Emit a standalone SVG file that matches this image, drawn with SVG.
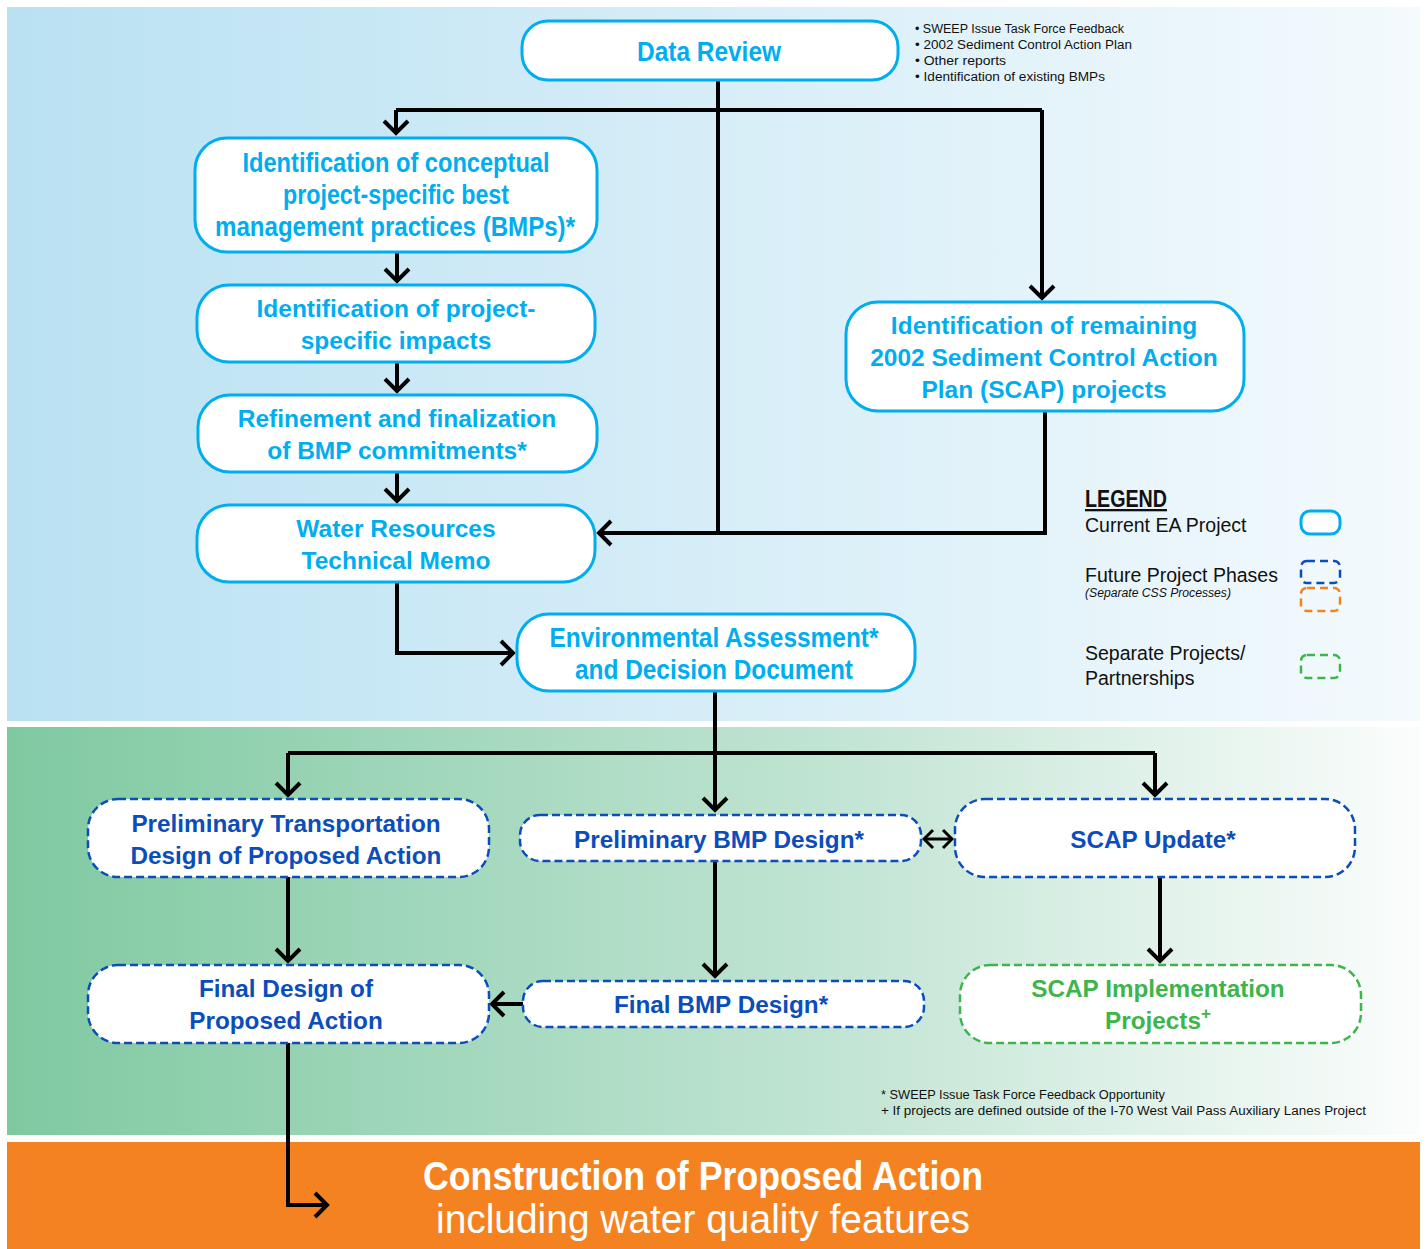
<svg xmlns="http://www.w3.org/2000/svg" width="1427" height="1249" viewBox="0 0 1427 1249">
<defs>
<linearGradient id="gTop" x1="0" y1="0" x2="1" y2="0"><stop offset="0" stop-color="#b9e1f2"/><stop offset="1" stop-color="#f4fafd"/></linearGradient>
<linearGradient id="gGreen" x1="0" y1="0" x2="1" y2="0"><stop offset="0" stop-color="#7fc9a1"/><stop offset="0.6" stop-color="#c3e5d5"/><stop offset="1" stop-color="#fbfdfc"/></linearGradient>
<marker id="arr" viewBox="-16 -16 20 32" refX="0" refY="0" markerWidth="20" markerHeight="32" markerUnits="userSpaceOnUse" orient="auto-start-reverse">
<path d="M-12,-12 L0,0 L-12,12" fill="none" stroke="#000" stroke-width="4"/>
</marker>
<marker id="arrS" viewBox="-12 -12 14 24" refX="0" refY="0" markerWidth="14" markerHeight="24" markerUnits="userSpaceOnUse" orient="auto-start-reverse">
<path d="M-9,-9 L0,0 L-9,9" fill="none" stroke="#000" stroke-width="3"/>
</marker>
<style>
.cur{fill:#fff;stroke:#00aeef;stroke-width:3}
.fut{fill:#fff;stroke:#0a4dbb;stroke-width:2.5;stroke-dasharray:8 4}
.sep{fill:#fff;stroke:#3db54a;stroke-width:2.5;stroke-dasharray:8 4}
.tc{font-family:"Liberation Sans",Arial,sans-serif;font-weight:bold;font-size:24.5px;fill:#00aeef;text-anchor:middle}
.tn{font-family:"Liberation Sans",Arial,sans-serif;font-weight:bold;font-size:28px;fill:#00aeef;text-anchor:middle}
.tb{font-family:"Liberation Sans",Arial,sans-serif;font-weight:bold;font-size:24.3px;fill:#0a4dbb;text-anchor:middle}
.tg{font-family:"Liberation Sans",Arial,sans-serif;font-weight:bold;font-size:24.3px;fill:#3db54a;text-anchor:middle}
.sm{font-family:"Liberation Sans",Arial,sans-serif;font-size:12.5px;fill:#111}
.lg{font-family:"Liberation Sans",Arial,sans-serif;font-size:19.5px;fill:#111}
.ln{fill:none;stroke:#000;stroke-width:4}
</style>
</defs>
<rect x="0" y="0" width="1427" height="1249" fill="#fff"/>
<rect x="7" y="7" width="1413" height="714" fill="url(#gTop)"/>
<rect x="7" y="727" width="1413" height="408" fill="url(#gGreen)"/>
<rect x="7" y="1142" width="1413" height="107" fill="#f58220"/>

<g id="connectors">
<path class="ln" d="M718,80 V533"/>
<path class="ln" d="M396,110 H1042"/>
<path class="ln" d="M396,110 V133" marker-end="url(#arr)"/>
<path class="ln" d="M1042,110 V298" marker-end="url(#arr)"/>
<path class="ln" d="M1045,411 V533 H599" marker-end="url(#arr)"/>
<path class="ln" d="M397,252 V281" marker-end="url(#arr)"/>
<path class="ln" d="M397,362 V391" marker-end="url(#arr)"/>
<path class="ln" d="M397,472 V501" marker-end="url(#arr)"/>
<path class="ln" d="M397,582 V653 H513" marker-end="url(#arr)"/>
<path class="ln" d="M715,691 V810" marker-end="url(#arr)"/>
<path class="ln" d="M288,753 H1155"/>
<path class="ln" d="M288,753 V795" marker-end="url(#arr)"/>
<path class="ln" d="M1155,753 V795" marker-end="url(#arr)"/>
<path d="M924,839 H952" fill="none" stroke="#000" stroke-width="3" marker-start="url(#arrS)" marker-end="url(#arrS)"/>
<path class="ln" d="M288,877 V961" marker-end="url(#arr)"/>
<path class="ln" d="M715,861 V976" marker-end="url(#arr)"/>
<path class="ln" d="M1160,877 V961" marker-end="url(#arr)"/>
<path class="ln" d="M523,1004 H492" marker-end="url(#arr)"/>
<path class="ln" d="M288,1043 V1205 H327" marker-end="url(#arr)"/>
</g>

<g id="data-review">
<rect class="cur" x="522" y="21" width="376" height="59" rx="26"/>
<text class="tn" x="709" y="61" textLength="144" lengthAdjust="spacingAndGlyphs">Data Review</text>
</g>
<g id="data-review-notes" class="sm">
<text x="915" y="33" textLength="209" lengthAdjust="spacingAndGlyphs">• SWEEP Issue Task Force Feedback</text>
<text x="915" y="49" textLength="217" lengthAdjust="spacingAndGlyphs">• 2002 Sediment Control Action Plan</text>
<text x="915" y="65" textLength="91" lengthAdjust="spacingAndGlyphs">• Other reports</text>
<text x="915" y="81" textLength="190" lengthAdjust="spacingAndGlyphs">• Identification of existing BMPs</text>
</g>
<g id="conceptual-bmps">
<rect class="cur" x="195" y="138" width="402" height="114" rx="32"/>
<text class="tn" x="396" y="172" textLength="307" lengthAdjust="spacingAndGlyphs">Identification of conceptual</text>
<text class="tn" x="396" y="204" textLength="226" lengthAdjust="spacingAndGlyphs">project-specific best</text>
<text class="tn" x="395" y="236" textLength="360" lengthAdjust="spacingAndGlyphs">management practices (BMPs)*</text>
</g>
<g id="impacts">
<rect class="cur" x="197" y="285" width="398" height="77" rx="32"/>
<text class="tc" x="396" y="317">Identification of project-</text>
<text class="tc" x="396" y="349">specific impacts</text>
</g>
<g id="refinement">
<rect class="cur" x="198" y="395" width="399" height="77" rx="32"/>
<text class="tc" x="397" y="427">Refinement and finalization</text>
<text class="tc" x="397" y="459">of BMP commitments*</text>
</g>
<g id="water-resources">
<rect class="cur" x="197" y="505" width="398" height="77" rx="32"/>
<text class="tc" x="396" y="537">Water Resources</text>
<text class="tc" x="396" y="569">Technical Memo</text>
</g>
<g id="scap-projects">
<rect class="cur" x="846" y="302" width="398" height="109" rx="32"/>
<text class="tc" x="1044" y="334">Identification of remaining</text>
<text class="tc" x="1044" y="366">2002 Sediment Control Action</text>
<text class="tc" x="1044" y="398">Plan (SCAP) projects</text>
</g>
<g id="ea">
<rect class="cur" x="517" y="614" width="398" height="77" rx="32"/>
<text class="tn" x="714" y="647" textLength="329" lengthAdjust="spacingAndGlyphs">Environmental Assessment*</text>
<text class="tn" x="714" y="679" textLength="278" lengthAdjust="spacingAndGlyphs">and Decision Document</text>
</g>

<g id="legend">
<text x="1085" y="507" font-family="'Liberation Sans',Arial,sans-serif" font-weight="bold" font-size="23" fill="#111" text-decoration="underline" textLength="82" lengthAdjust="spacingAndGlyphs">LEGEND</text>
<text class="lg" x="1085" y="532">Current EA Project</text>
<rect x="1301" y="511" width="39" height="23" rx="9" fill="#fff" stroke="#00aeef" stroke-width="3"/>
<text class="lg" x="1085" y="582">Future Project Phases</text>
<text x="1085" y="597" font-family="'Liberation Sans',Arial,sans-serif" font-size="12" font-style="italic" fill="#111" textLength="146" lengthAdjust="spacingAndGlyphs">(Separate CSS Processes)</text>
<rect x="1301" y="561" width="39" height="22" rx="6" fill="none" stroke="#0a4dbb" stroke-width="2.5" stroke-dasharray="8 5"/>
<rect x="1301" y="588" width="39" height="23" rx="6" fill="none" stroke="#f58220" stroke-width="2.5" stroke-dasharray="8 5"/>
<text class="lg" x="1085" y="660">Separate Projects/</text>
<text class="lg" x="1085" y="685">Partnerships</text>
<rect x="1301" y="655" width="39" height="23" rx="6" fill="none" stroke="#3db54a" stroke-width="2.5" stroke-dasharray="8 5"/>
</g>

<g id="prelim-transport">
<rect class="fut" x="88" y="799" width="401" height="78" rx="30"/>
<text class="tb" x="286" y="832">Preliminary Transportation</text>
<text class="tb" x="286" y="864">Design of Proposed Action</text>
</g>
<g id="prelim-bmp">
<rect class="fut" x="520" y="815" width="401" height="46" rx="20"/>
<text class="tb" x="719" y="848">Preliminary BMP Design*</text>
</g>
<g id="scap-update">
<rect class="fut" x="955" y="799" width="400" height="78" rx="30"/>
<text class="tb" x="1153" y="848">SCAP Update*</text>
</g>
<g id="final-design">
<rect class="fut" x="88" y="965" width="401" height="78" rx="30"/>
<text class="tb" x="286" y="997">Final Design of</text>
<text class="tb" x="286" y="1029">Proposed Action</text>
</g>
<g id="final-bmp">
<rect class="fut" x="523" y="981" width="401" height="46" rx="20"/>
<text class="tb" x="721" y="1013">Final BMP Design*</text>
</g>
<g id="scap-impl">
<rect class="sep" x="960" y="965" width="401" height="78" rx="30"/>
<text class="tg" x="1158" y="997">SCAP Implementation</text>
<text class="tg" x="1158" y="1029">Projects<tspan font-size="17" dy="-10">+</tspan></text>
</g>

<g id="footnotes" class="sm">
<text x="881" y="1099" textLength="284" lengthAdjust="spacingAndGlyphs">* SWEEP Issue Task Force Feedback Opportunity</text>
<text x="881" y="1115" textLength="485" lengthAdjust="spacingAndGlyphs">+ If projects are defined outside of the I-70 West Vail Pass Auxiliary Lanes Project</text>
</g>

<g id="construction">
<text x="703" y="1190" font-family="'Liberation Sans',Arial,sans-serif" font-weight="bold" font-size="40" fill="#fff" text-anchor="middle" textLength="560" lengthAdjust="spacingAndGlyphs">Construction of Proposed Action</text>
<text x="703" y="1233" font-family="'Liberation Sans',Arial,sans-serif" font-size="40" fill="#fff" text-anchor="middle" textLength="534" lengthAdjust="spacingAndGlyphs">including water quality features</text>
</g>
</svg>
